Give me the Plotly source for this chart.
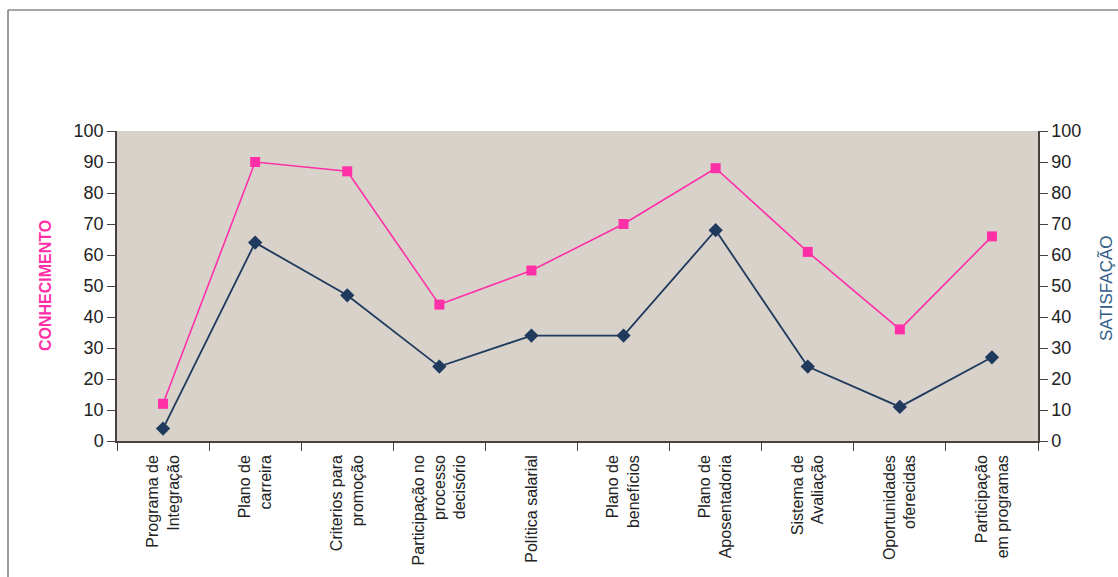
import plotly.graph_objects as go

# Survey items (x categories)
categorias = [
    "Programa de<br>Integração",
    "Plano de<br>carreira",
    "Criterios para<br>promoção",
    "Participação no<br>processo<br>decisório",
    "Política salarial",
    "Plano de<br>benefícios",
    "Plano de<br>Aposentadoria",
    "Sistema de<br>Avaliação",
    "Oportunidades<br>oferecidas",
    "Participação<br>em programas",
]

# Percentages per item
conhecimento = [12, 90, 87, 44, 55, 70, 88, 61, 36, 66]
satisfacao = [4, 64, 47, 24, 34, 34, 68, 24, 11, 27]

eixo_ticks = [0, 10, 20, 30, 40, 50, 60, 70, 80, 90, 100]

PINK = "#ff2fa8"
NAVY = "#1f3a5c"
AXIS = "#4a4040"
FONT = "Arial, Liberation Sans, sans-serif"

fig = go.Figure()
fig.add_trace(go.Scatter(
    x=categorias, y=conhecimento, mode="lines+markers", name="CONHECIMENTO",
    line=dict(color=PINK, width=1.6),
    marker=dict(symbol="square", size=10, color=PINK),
    yaxis="y",
))
fig.add_trace(go.Scatter(
    x=categorias, y=satisfacao, mode="lines+markers", name="SATISFAÇÃO",
    line=dict(color=NAVY, width=1.8),
    marker=dict(symbol="diamond", size=11, color=NAVY),
    yaxis="y2",
))

tickfont = dict(family=FONT, size=18, color="#222")

fig.update_layout(
    width=1118, height=577,
    margin=dict(l=117, r=80, t=131, b=136),
    paper_bgcolor="white",
    plot_bgcolor="#d8d2cb",
    showlegend=False,
    xaxis=dict(
        type="category",
        range=[-0.5, len(categorias) - 0.5],
        tickson="boundaries",
        ticks="outside", ticklen=8, tickcolor=AXIS,
        tickangle=-90,
        ticklabelstandoff=6,
        tickfont=dict(family=FONT, size=16, color="#222"),
        showline=True, linecolor=AXIS, linewidth=1.5,
        showgrid=False, zeroline=False,
    ),
    yaxis=dict(
        range=[0, 100], tickvals=eixo_ticks,
        ticks="outside", ticklen=8, tickcolor=AXIS,
        tickfont=tickfont,
        showline=True, linecolor=AXIS, linewidth=1.5,
        showgrid=False, zeroline=False,
    ),
    yaxis2=dict(
        range=[0, 100], tickvals=eixo_ticks,
        overlaying="y", side="right",
        ticks="outside", ticklen=8, tickcolor=AXIS,
        tickfont=tickfont,
        showline=True, linecolor=AXIS, linewidth=1.5,
        showgrid=False, zeroline=False,
    ),
    annotations=[
        dict(text="<b>CONHECIMENTO</b>", textangle=-90, xref="paper", yref="paper",
             x=(45 - 117) / 921, y=(441 - 286) / 310, xanchor="center", yanchor="middle",
             showarrow=False, font=dict(family=FONT, size=16, color=PINK)),
        dict(text="SATISFAÇÃO", textangle=-90, xref="paper", yref="paper",
             x=(1106 - 117) / 921, y=(441 - 288) / 310, xanchor="center", yanchor="middle",
             showarrow=False, font=dict(family=FONT, size=17, color="#2f5d86")),
    ],
    shapes=[
        # outer chart frame
        dict(type="line", xref="paper", yref="paper",
             x0=(8 - 117) / 921, x1=(8 - 117) / 921, y0=(441 - 600) / 310, y1=(441 - 10) / 310,
             line=dict(color="#7a7a7a", width=1.5)),
        dict(type="line", xref="paper", yref="paper",
             x0=(8 - 117) / 921, x1=(1130 - 117) / 921, y0=(441 - 10) / 310, y1=(441 - 10) / 310,
             line=dict(color="#8a8a8a", width=1.5)),
    ],
)

fig.write_html("out.html")
